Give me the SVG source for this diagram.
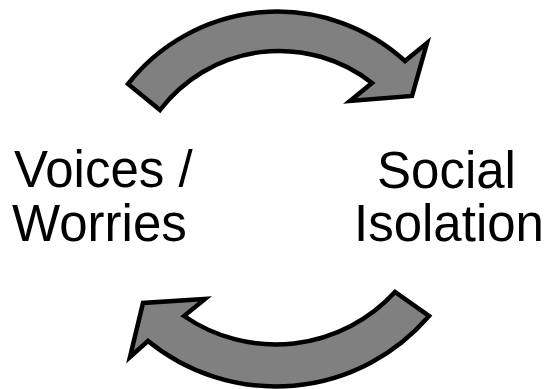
<svg xmlns="http://www.w3.org/2000/svg" width="550" height="389" viewBox="0 0 550 389">
<style>
.arrow{fill:#808080;stroke:#000;stroke-width:4.5;stroke-linejoin:miter}
.lbl{font-family:"Liberation Sans",Arial,sans-serif;font-size:51px;fill:#000}
</style>
<rect width="550" height="389" fill="#fff"/>
<g id="connectors">
<path id="arrow-top" class="arrow" d="M 128,84 A 190 190 0 0 1 405,61 L 427,43 L 412,96 L 350,101 L 372,83 A 150 150 0 0 0 160,110 Z"/>
<path id="arrow-bottom" class="arrow" d="M 429,316 A 202 202 0 0 1 148,341 L 130,357 L 143,303 L 205,299 L 184,316 A 162 162 0 0 0 395,292 Z"/>
</g>
<g id="node-voices">
<text class="lbl" x="14" y="187">Voices /</text>
<text class="lbl" x="12" y="241">Worries</text>
</g>
<g id="node-social">
<text class="lbl" x="377" y="188">Social</text>
<text class="lbl" x="354" y="241">Isolation</text>
</g>
</svg>
